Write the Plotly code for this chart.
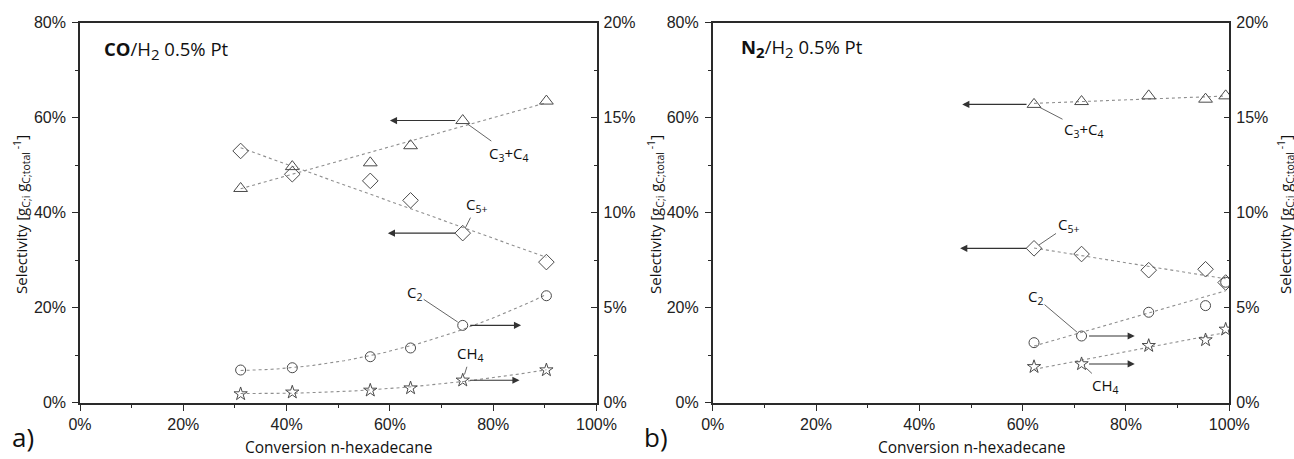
import numpy as np
import plotly.graph_objects as go

# ---- Data (selectivity in %, conversion in %) ----
# a) CO/H2 0.5% Pt
conv_a = [31.1, 41.1, 56.2, 64.0, 74.1, 90.3]
c34_a = [45.1, 49.7, 50.5, 54.1, 59.4, 63.5]   # left axis
c5_a = [53.0, 48.1, 46.7, 42.6, 35.7, 29.6]    # left axis
c2_a = [1.72, 1.84, 2.42, 2.88, 4.07, 5.63]    # right axis
ch4_a = [0.46, 0.55, 0.65, 0.77, 1.18, 1.72]   # right axis

# b) N2/H2 0.5% Pt
conv_b = [62.2, 71.4, 84.4, 95.4, 99.3]
c34_b = [62.8, 63.4, 64.6, 63.9, 64.6]         # left axis
c5_b = [32.5, 31.3, 27.9, 28.1, 25.3]          # left axis
c2_b = [3.16, 3.51, 4.76, 5.11, 6.34]          # right axis
ch4_b = [1.89, 2.04, 3.00, 3.30, 3.86]         # right axis

x_ticks = [0, 20, 40, 60, 80, 100]
left_ticks = [0, 20, 40, 60, 80]
right_ticks = [0, 5, 10, 15, 20]

W, H = 1294, 459
AX = "#2a2a2a"
MK = "#4a4a4a"
FIT = "#8f8f8f"
TXT_FONT = "Open Sans"
TICK_FONT = "Liberation Sans"


def fit_curve(x, y, deg):
    c = np.polyfit(x, y, deg)
    xs = np.linspace(min(x), max(x), 60)
    return xs, np.polyval(c, xs)


def px(x):
    return x / W


def py(y):
    return 1 - y / H


fig = go.Figure()

series = [
    # (xdata, ydata, symbol, size, yaxis, fit degree, xaxis)
    (conv_a, c34_a, "triangle-up-open", 12, "y", 1, "x"),
    (conv_a, c5_a, "diamond-open", 12, "y", 1, "x"),
    (conv_a, c2_a, "circle-open", 10, "y2", 2, "x"),
    (conv_a, ch4_a, "star-open", 10, "y2", 2, "x"),
    (conv_b, c34_b, "triangle-up-open", 12, "y3", 1, "x2"),
    (conv_b, c5_b, "diamond-open", 12, "y3", 1, "x2"),
    (conv_b, c2_b, "circle-open", 10, "y4", 1, "x2"),
    (conv_b, ch4_b, "star-open", 10, "y4", 1, "x2"),
]

for xd, yd, sym, size, ya, deg, xa in series:
    xs, ys = fit_curve(xd, yd, deg)
    fig.add_trace(go.Scatter(x=xs, y=ys, mode="lines", xaxis=xa, yaxis=ya,
                             line=dict(color=FIT, width=1.1, dash="dot"),
                             hoverinfo="skip", showlegend=False))
    fig.add_trace(go.Scatter(x=xd, y=yd, mode="markers", xaxis=xa, yaxis=ya,
                             marker=dict(symbol=sym, size=size, color=MK,
                                         line=dict(color=MK, width=1)),
                             showlegend=False))

dom_y = [1 - 402.7 / H, 1 - 22.7 / H]
dom_xa = [80 / W, 596.5 / W]
dom_xb = [712.7 / W, 1229.3 / W]

tickfont = dict(family=TICK_FONT, size=16, color="#222")


def xaxis(domain, anchor):
    return dict(domain=domain, anchor=anchor, range=[0, 100], tickvals=x_ticks,
                ticktext=[f"{v}%" for v in x_ticks], showline=True, linecolor=AX,
                linewidth=1.6, mirror=True, ticks="outside", ticklen=6, tickwidth=1.4,
                tickcolor=AX, showgrid=False, zeroline=False, tickfont=tickfont,
                minor=dict(dtick=10, ticks="outside", ticklen=3, tickwidth=1.2,
                           tickcolor=AX, showgrid=False))


def yleft(anchor):
    return dict(domain=dom_y, anchor=anchor, range=[0, 80], tickvals=left_ticks,
                ticktext=[f"{v}%" for v in left_ticks], showline=True, linecolor=AX,
                linewidth=1.6, ticks="outside", ticklen=6, tickwidth=1.4, tickcolor=AX,
                showgrid=False, zeroline=False, tickfont=tickfont, ticklabelstandoff=3,
                minor=dict(dtick=10, ticks="outside", ticklen=3, tickwidth=1.2,
                           tickcolor=AX, showgrid=False))


def yright(anchor, over):
    return dict(domain=dom_y, anchor=anchor, overlaying=over, side="right",
                range=[0, 20], tickvals=right_ticks,
                ticktext=[f"{v}%" for v in right_ticks], showline=True, linecolor=AX,
                linewidth=1.6, ticks="inside", ticklen=6, tickwidth=1.4, tickcolor=AX,
                showgrid=False, zeroline=False, tickfont=tickfont, ticklabelstandoff=2,
                minor=dict(dtick=2.5, ticks="inside", ticklen=3, tickwidth=1.2,
                           tickcolor=AX, showgrid=False))


ann = []
lab_font = dict(family=TXT_FONT, size=15, color="#111")

# Leader-line labels: (x, y, xref, yref, text, ax, ay)
labels = [
    (conv_a[4], c34_a[4], "x", "y", "C<sub>3</sub>+C<sub>4</sub>", 46, 33),
    (conv_a[4], c5_a[4], "x", "y", "C<sub>5+</sub>", 14, -28),
    (conv_a[4], c2_a[4], "x", "y2", "C<sub>2</sub>", -48, -32),
    (conv_a[4], ch4_a[4], "x", "y2", "CH<sub>4</sub>", 8, -26),
    (conv_b[0], c34_b[0], "x2", "y3", "C<sub>3</sub>+C<sub>4</sub>", 50, 26),
    (conv_b[0], c5_b[0], "x2", "y3", "C<sub>5+</sub>", 34, -23),
    (conv_b[1], c2_b[1], "x2", "y4", "C<sub>2</sub>", -46, -39),
    (conv_b[1], ch4_b[1], "x2", "y4", "CH<sub>4</sub>", 24, 22),
]
for x, y, xr, yr, t, ax, ay in labels:
    ann.append(dict(x=x, y=y, xref=xr, yref=yr, text=t, ax=ax, ay=ay,
                    showarrow=True, arrowhead=0, arrowwidth=0.9, arrowcolor="#555",
                    standoff=6, font=lab_font))

# Axis-pointer arrows: (tip x, x, y, xref, yref)
pointers = [
    (60.0, conv_a[4], c34_a[4], "x", "y"),
    (59.6, conv_a[4], c5_a[4], "x", "y"),
    (85.4, conv_a[4], c2_a[4], "x", "y2"),
    (85.1, conv_a[4], ch4_a[4], "x", "y2"),
    (48.3, conv_b[0], c34_b[0], "x2", "y3"),
    (47.9, conv_b[0], c5_b[0], "x2", "y3"),
    (81.7, conv_b[1], c2_b[1], "x2", "y4"),
    (81.7, conv_b[1], ch4_b[1], "x2", "y4"),
]
for tip, x, y, xr, yr in pointers:
    ann.append(dict(x=tip, y=y, xref=xr, yref=yr, ax=x, ay=y, axref=xr, ayref=yr,
                    text="", showarrow=True, arrowhead=2, arrowsize=1.3,
                    arrowwidth=1.1, arrowcolor="#333", standoff=0, startstandoff=6))

# Panel headings and letters
sub2 = '<sub><span style="font-size:15px">2</span></sub>'
head_font = dict(family=TXT_FONT, size=18.5, color="#111")
ann.append(dict(x=px(101.7), y=py(50), xref="paper", yref="paper", xanchor="left",
                yanchor="middle", showarrow=False,
                text=f"<b>CO</b>/H{sub2} 0.5% Pt", font=head_font))
ann.append(dict(x=px(739.3), y=py(48), xref="paper", yref="paper", xanchor="left",
                yanchor="middle", showarrow=False,
                text=f"<b>N{sub2}</b>/H{sub2} 0.5% Pt", font=head_font))
for t, x in [("a)", 23), ("b)", 656)]:
    ann.append(dict(x=px(x), y=py(437), xref="paper", yref="paper", showarrow=False,
                    xanchor="center", yanchor="middle",
                    text=t, font=dict(family=TXT_FONT, size=26, color="#111")))

# Axis titles
for x in [338, 971]:
    ann.append(dict(x=px(x), y=py(447), xref="paper", yref="paper", showarrow=False,
                    xanchor="center", yanchor="middle",
                    text="Conversion n-hexadecane",
                    font=dict(family=TXT_FONT, size=15.5, color="#111")))
ytitle = "Selectivity [g<sub>C;i</sub> g<sub>C;total</sub><sup> -1</sup>]"
for x in [22, 656, 1286]:
    ann.append(dict(x=px(x), y=py(215), xref="paper", yref="paper", showarrow=False,
                    xanchor="center", yanchor="middle",
                    text=ytitle, textangle=-90,
                    font=dict(family=TXT_FONT, size=15, color="#111")))

fig.update_layout(
    width=W, height=H, template="none",
    margin=dict(l=0, r=0, t=0, b=0),
    paper_bgcolor="white", plot_bgcolor="white",
    xaxis=xaxis(dom_xa, "y"),
    yaxis=yleft("x"),
    yaxis2=yright("x", "y"),
    xaxis2=xaxis(dom_xb, "y3"),
    yaxis3=yleft("x2"),
    yaxis4=yright("x2", "y3"),
    annotations=ann,
    showlegend=False,
)

fig.write_html("out.html")
